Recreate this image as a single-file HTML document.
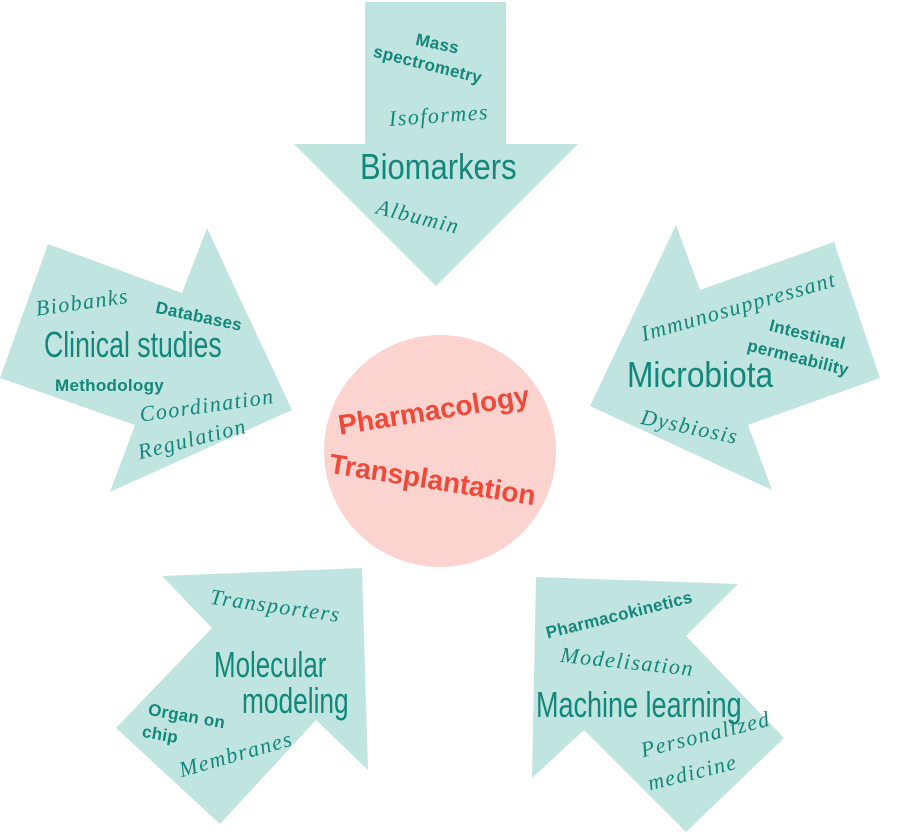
<!DOCTYPE html>
<html><head><meta charset="utf-8"><style>
html,body{margin:0;padding:0;background:#fff;}
body{width:902px;height:834px;position:relative;overflow:hidden;font-family:"Liberation Sans",sans-serif;}
.t{position:absolute;color:#12877a;white-space:nowrap;transform-origin:left top;}
.big{font-family:"Liberation Sans",sans-serif;font-size:36px;}
.hw{font-family:"Liberation Serif",serif;font-style:italic;font-size:22px;letter-spacing:1.5px;}
.sm{font-size:17px;font-weight:bold;letter-spacing:0.3px;}
.red{position:absolute;color:#f0493a;font-weight:bold;font-size:28px;white-space:nowrap;transform-origin:left top;}
</style></head><body>
<svg width="902" height="834" style="position:absolute;left:0;top:0">
<g fill="#c0e4e0">
<polygon points="365,2 506,2 506,144 578,144 436,286 294,144 365,144"/>
<polygon points="48,244 182,293 207,228 292,410 110,492 135,425 0,378"/>
<polygon points="676,225 700,290 834,242 880,378 748,425 772,490 590,406"/>
<polygon points="162,576 362,568 368,770 316,720 220,824 116,728 212,628"/>
<polygon points="536,577 738,584 686,636 784,738 686,832 584,730 532,778"/>
</g>
<circle cx="440" cy="451" r="116" fill="#fbd3cf"/>
</svg>
<div class="t sm" style="left:418px;top:30px;transform:rotate(12deg)">Mass</div>
<div class="t sm" style="left:376px;top:42px;transform:rotate(14deg)">spectrometry</div>
<div class="t hw" style="left:388px;top:106px;transform:rotate(-4deg)">Isoformes</div>
<div class="t big" style="left:360px;top:146px;transform:scaleX(0.86)">Biomarkers</div>
<div class="t hw" style="left:380px;top:194px;transform:rotate(14deg)">Albumin</div>

<div class="t hw" style="left:34px;top:296px;transform:rotate(-8deg)">Biobanks</div>
<div class="t sm" style="left:158px;top:298px;transform:rotate(12deg)">Databases</div>
<div class="t big" style="left:44px;top:324px;transform:scaleX(0.74)">Clinical studies</div>
<div class="t sm" style="left:55px;top:376px;">Methodology</div>
<div class="t hw" style="left:138px;top:402px;transform:rotate(-8deg)">Coordination</div>
<div class="t hw" style="left:135px;top:440px;transform:rotate(-14deg)">Regulation</div>

<div class="t hw" style="left:638px;top:322px;transform:rotate(-16deg)">Immunosuppressant</div>
<div class="t sm" style="left:772px;top:316px;transform:rotate(14deg)">Intestinal</div>
<div class="t sm" style="left:750px;top:336px;transform:rotate(14deg)">permeability</div>
<div class="t big" style="left:627px;top:354px;transform:scaleX(0.88)">Microbiota</div>
<div class="t hw" style="left:644px;top:404px;transform:rotate(12deg)">Dysbiosis</div>

<div class="t hw" style="left:212px;top:584px;transform:rotate(8deg)">Transporters</div>
<div class="t big" style="left:214px;top:644px;transform:scaleX(0.72)">Molecular</div>
<div class="t big" style="left:242px;top:680px;transform:scaleX(0.73)">modeling</div>
<div class="t sm" style="left:150px;top:700px;transform:rotate(10deg)">Organ on</div>
<div class="t sm" style="left:144px;top:722px;transform:rotate(10deg)">chip</div>
<div class="t hw" style="left:176px;top:758px;transform:rotate(-16deg)">Membranes</div>

<div class="t sm" style="left:544px;top:624px;transform:rotate(-14deg)">Pharmacokinetics</div>
<div class="t hw" style="left:562px;top:642px;transform:rotate(6deg)">Modelisation</div>
<div class="t big" style="left:536px;top:684px;transform:scaleX(0.75)">Machine learning</div>
<div class="t hw" style="left:638px;top:738px;transform:rotate(-14deg)">Personalized</div>
<div class="t hw" style="left:645px;top:771px;transform:rotate(-14deg)">medicine</div>

<div class="red" style="left:336px;top:410px;transform:rotate(-9deg)">Pharmacology</div>
<div class="red" style="left:332px;top:448px;transform:rotate(9deg)">Transplantation</div>
</body></html>
